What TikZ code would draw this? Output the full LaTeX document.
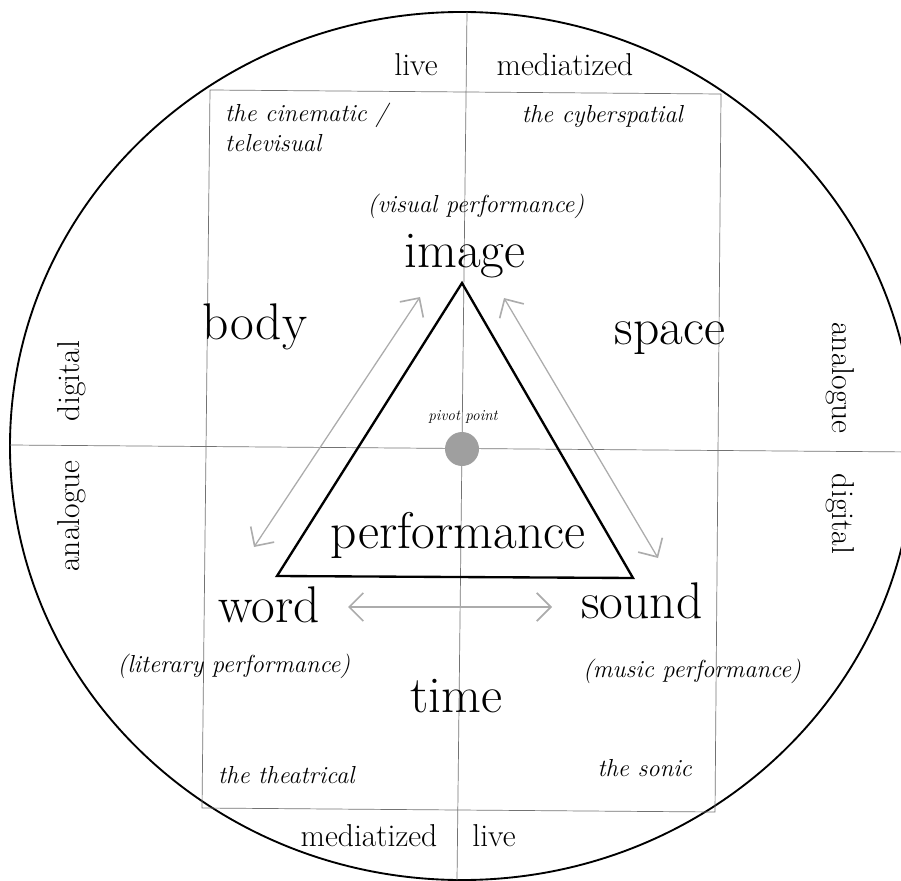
\documentclass[tikz,border=0pt]{standalone}
\usepackage{fontspec}
\usepackage{tikz}
\usetikzlibrary{arrows.meta}

\tikzset{
  bigword/.style={font=\fontsize{44}{50}\selectfont, inner sep=0pt, anchor=base},
  axislabel/.style={font=\fontsize{27}{30}\selectfont, inner sep=0pt},
  quadlabel/.style={font=\fontsize{21}{25}\selectfont\itshape, inner sep=0pt},
  gridline/.style={black!55, line width=0.6pt},
  linkarrow/.style={gray!65, line width=1.1pt,
    {Straight Barb[length=12pt,width=24pt,line width=1.4pt]}-{Straight Barb[length=12pt,width=24pt,line width=1.4pt]}},
}

\begin{document}
\begin{tikzpicture}[x=0.03cm, y=-0.03cm]
    \useasboundingbox (0,0) rectangle (901,881);
    \clip (0,0) rectangle (901,881);

    % grid and frame
    \draw[line width=1.6pt] (462,446) ellipse [x radius=13.56cm, y radius=13.02cm];
    \draw[gridline] (210,90) -- (721,94) -- (715,812) -- (202,808) -- cycle;
    \draw[gridline] (10,445) -- (914,452);
    \draw[gridline] (467,12) -- (457,880);

    % triangle
    \coordinate (apex) at (462,283);
    \coordinate (baseL) at (277,576);
    \coordinate (baseR) at (633,578);
    \draw[line width=2pt, line join=miter] (apex) -- (baseL) -- (baseR) -- cycle;
    \node[circle, fill=gray!75, inner sep=0pt, minimum size=1.02cm] (pivot) at (462,449) {};
    \node[font=\fontsize{13}{15}\selectfont\itshape, inner sep=0pt, anchor=base] (pivotlabel) at (463,420) {pivot point};

    % axis labels
    \node[axislabel, anchor=base] (liveT) at (416,76) {live};
    \node[axislabel, anchor=base] (mediaT) at (565,76) {mediatized};
    \node[axislabel, anchor=base] (mediaB) at (369,846) {mediatized};
    \node[axislabel, anchor=base] (liveB) at (494,846) {live};
    \node[axislabel, rotate=90] (digL) at (72,381) {digital};
    \node[axislabel, rotate=90] (anaL) at (72,516) {analogue};
    \node[axislabel, rotate=-90] (anaR) at (840,378) {analogue};
    \node[axislabel, rotate=-90] (digR) at (840,514) {digital};

    % quadrants
    \node[quadlabel, anchor=base west] (cinema) at (225,122) {the cinematic /};
    \node[quadlabel, anchor=base west] (tele) at (225,152) {televisual};
    \node[quadlabel, anchor=base east] (cyber) at (683,123) {the cyberspatial};
    \node[quadlabel, anchor=base west] (theatre) at (218,783) {the theatrical};
    \node[quadlabel, anchor=base east] (sonic) at (692,776) {the sonic};

    \node[quadlabel, anchor=base] (visperf) at (476,213) {(visual performance)};
    \node[quadlabel, anchor=base] (litperf) at (234,672) {(literary performance)};
    \node[quadlabel, anchor=base] (musperf) at (692,677) {(music performance)};

    % main words
    \node[bigword] (image) at (465,268) {image};
    \node[bigword] (body) at (255,340) {body};
    \node[bigword] (space) at (670,345) {space};
    \node[bigword] (performance) at (458,548) {performance};
    \node[bigword] (word) at (269,622) {word};
    \node[bigword] (sound) at (642,618) {sound};
    \node[bigword] (time) at (456,712) {time};

    % links
    \coordinate (imgL) at (420,297);
    \coordinate (wordT) at (254,547);
    \coordinate (imgR) at (504,298);
    \coordinate (soundT) at (658,558);
    \coordinate (wordR) at (348,607);
    \coordinate (soundL) at (552,607);
    \draw[linkarrow] (wordT) -- (imgL);
    \draw[linkarrow] (imgR) -- (soundT);
    \draw[linkarrow] (wordR) -- (soundL);
\end{tikzpicture}
\end{document}
